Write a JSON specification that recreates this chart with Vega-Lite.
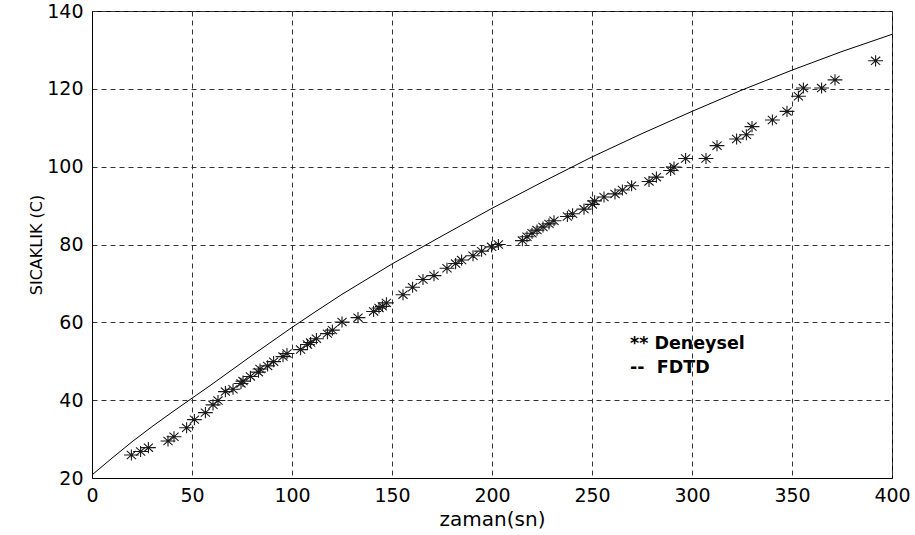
{
  "$schema": "https://vega.github.io/schema/vega-lite/v6.json",
  "width": 800,
  "height": 467,
  "autosize": "none",
  "padding": {"left": 92, "top": 11, "right": 23, "bottom": 57},
  "background": "white",
  "config": {
    "view": {"stroke": "black", "strokeWidth": 1},
    "axis": {
      "labelFont": "DejaVu Sans",
      "labelFontSize": 19,
      "labelColor": "black",
      "titleFont": "DejaVu Sans",
      "titleColor": "black",
      "titleFontWeight": "normal",
      "domainColor": "black",
      "domainWidth": 1,
      "ticks": false,
      "gridColor": "#333333",
      "gridDash": [5, 4],
      "gridOpacity": 1,
      "gridWidth": 1
    }
  },
  "datasets": {
    "deneysel": [
      {"zaman": 19.7, "sicaklik": 25.9}, {"zaman": 24.3, "sicaklik": 26.8}, {"zaman": 28.2, "sicaklik": 27.8},
      {"zaman": 38.0, "sicaklik": 29.5}, {"zaman": 41.0, "sicaklik": 30.6}, {"zaman": 47.3, "sicaklik": 32.9},
      {"zaman": 51.2, "sicaklik": 35.0}, {"zaman": 56.7, "sicaklik": 36.8}, {"zaman": 60.5, "sicaklik": 38.8},
      {"zaman": 63.0, "sicaklik": 39.9}, {"zaman": 66.7, "sicaklik": 42.2}, {"zaman": 70.5, "sicaklik": 42.8},
      {"zaman": 74.5, "sicaklik": 44.3}, {"zaman": 75.5, "sicaklik": 44.9}, {"zaman": 79.2, "sicaklik": 46.1},
      {"zaman": 83.2, "sicaklik": 47.2}, {"zaman": 84.0, "sicaklik": 48.0}, {"zaman": 87.8, "sicaklik": 48.8},
      {"zaman": 90.8, "sicaklik": 49.9}, {"zaman": 95.5, "sicaklik": 51.2}, {"zaman": 97.5, "sicaklik": 52.0},
      {"zaman": 104.3, "sicaklik": 53.0}, {"zaman": 107.7, "sicaklik": 54.3}, {"zaman": 109.3, "sicaklik": 54.8},
      {"zaman": 112.2, "sicaklik": 55.8}, {"zaman": 117.7, "sicaklik": 57.1}, {"zaman": 120.2, "sicaklik": 58.0},
      {"zaman": 125.0, "sicaklik": 60.1}, {"zaman": 133.0, "sicaklik": 61.2}, {"zaman": 140.8, "sicaklik": 62.8},
      {"zaman": 143.5, "sicaklik": 63.7}, {"zaman": 145.2, "sicaklik": 64.1}, {"zaman": 147.2, "sicaklik": 65.0},
      {"zaman": 155.5, "sicaklik": 67.1}, {"zaman": 160.3, "sicaklik": 69.0}, {"zaman": 165.5, "sicaklik": 71.0},
      {"zaman": 171.0, "sicaklik": 72.0}, {"zaman": 177.5, "sicaklik": 73.9}, {"zaman": 181.8, "sicaklik": 75.1},
      {"zaman": 184.8, "sicaklik": 76.0}, {"zaman": 190.5, "sicaklik": 77.1}, {"zaman": 194.8, "sicaklik": 78.3},
      {"zaman": 199.8, "sicaklik": 79.4}, {"zaman": 203.2, "sicaklik": 80.0}, {"zaman": 215.2, "sicaklik": 81.0},
      {"zaman": 217.5, "sicaklik": 82.0}, {"zaman": 220.0, "sicaklik": 82.9}, {"zaman": 222.5, "sicaklik": 83.7},
      {"zaman": 225.5, "sicaklik": 84.5}, {"zaman": 228.5, "sicaklik": 85.3}, {"zaman": 231.0, "sicaklik": 86.1},
      {"zaman": 237.7, "sicaklik": 87.2}, {"zaman": 240.3, "sicaklik": 87.9}, {"zaman": 246.0, "sicaklik": 89.1},
      {"zaman": 250.2, "sicaklik": 90.3}, {"zaman": 251.3, "sicaklik": 91.2}, {"zaman": 256.0, "sicaklik": 92.2},
      {"zaman": 261.5, "sicaklik": 93.0}, {"zaman": 265.2, "sicaklik": 94.0}, {"zaman": 269.8, "sicaklik": 95.1},
      {"zaman": 278.5, "sicaklik": 96.2}, {"zaman": 282.2, "sicaklik": 97.3}, {"zaman": 289.3, "sicaklik": 99.0},
      {"zaman": 291.0, "sicaklik": 99.9}, {"zaman": 296.8, "sicaklik": 102.1}, {"zaman": 307.0, "sicaklik": 102.1},
      {"zaman": 312.5, "sicaklik": 105.4}, {"zaman": 322.3, "sicaklik": 107.1}, {"zaman": 327.2, "sicaklik": 108.2},
      {"zaman": 330.0, "sicaklik": 110.3}, {"zaman": 340.2, "sicaklik": 112.0}, {"zaman": 347.5, "sicaklik": 114.2},
      {"zaman": 353.2, "sicaklik": 118.1}, {"zaman": 355.7, "sicaklik": 120.2}, {"zaman": 364.8, "sicaklik": 120.2},
      {"zaman": 371.5, "sicaklik": 122.3}, {"zaman": 391.8, "sicaklik": 127.2}
    ],
    "fdtd": [
      {"zaman": 0, "sicaklik": 20.8}, {"zaman": 10, "sicaklik": 25.1}, {"zaman": 20, "sicaklik": 29.3},
      {"zaman": 30, "sicaklik": 33.2}, {"zaman": 40, "sicaklik": 36.9}, {"zaman": 50, "sicaklik": 40.5},
      {"zaman": 60, "sicaklik": 44.1}, {"zaman": 70, "sicaklik": 47.8}, {"zaman": 80, "sicaklik": 51.5},
      {"zaman": 90, "sicaklik": 55.1}, {"zaman": 100, "sicaklik": 58.7}, {"zaman": 112.5, "sicaklik": 63.0},
      {"zaman": 125, "sicaklik": 67.2}, {"zaman": 150, "sicaklik": 75.0}, {"zaman": 175, "sicaklik": 82.2},
      {"zaman": 200, "sicaklik": 89.3}, {"zaman": 225, "sicaklik": 96.0}, {"zaman": 250, "sicaklik": 102.5},
      {"zaman": 275, "sicaklik": 108.5}, {"zaman": 300, "sicaklik": 114.2}, {"zaman": 325, "sicaklik": 119.7},
      {"zaman": 350, "sicaklik": 124.8}, {"zaman": 375, "sicaklik": 129.6}, {"zaman": 400, "sicaklik": 134.0}
    ],
    "legend": [
      {"zaman": 269, "sicaklik": 53.1, "etiket": "** Deneysel"},
      {"zaman": 269, "sicaklik": 46.9, "etiket": "--\u00a0\u00a0FDTD"}
    ]
  },
  "layer": [
    {
      "data": {"name": "fdtd"},
      "mark": {"type": "line", "color": "black", "strokeWidth": 1, "clip": true},
      "encoding": {
        "x": {
          "field": "zaman", "type": "quantitative",
          "scale": {"domain": [0, 400], "nice": false},
          "axis": {"values": [0, 50, 100, 150, 200, 250, 300, 350, 400], "title": "zaman(sn)", "titleFontSize": 20, "labelPadding": 8, "titlePadding": 4, "labelFlush": false}
        },
        "y": {
          "field": "sicaklik", "type": "quantitative",
          "scale": {"domain": [20, 140], "nice": false, "zero": false},
          "axis": {"values": [20, 40, 60, 80, 100, 120, 140], "title": "SICAKLIK (C)", "titleFontSize": 16, "labelPadding": 9, "titlePadding": 2, "labelFlush": false}
        }
      }
    },
    {
      "data": {"name": "deneysel"},
      "mark": {
        "type": "point",
        "shape": "M-1,0L1,0M0,-0.75L0,0.75M-0.62,-0.55L0.62,0.55M-0.62,0.55L0.62,-0.55",
        "size": 220,
        "filled": false,
        "stroke": "#1a1a1a",
        "strokeWidth": 1.1,
        "opacity": 1
      },
      "encoding": {
        "x": {"field": "zaman", "type": "quantitative"},
        "y": {"field": "sicaklik", "type": "quantitative"}
      }
    },
    {
      "data": {"name": "legend"},
      "mark": {"type": "text", "align": "left", "baseline": "alphabetic", "font": "DejaVu Sans", "fontSize": 17.5, "fontWeight": "bold", "color": "black"},
      "encoding": {
        "x": {"field": "zaman", "type": "quantitative"},
        "y": {"field": "sicaklik", "type": "quantitative"},
        "text": {"field": "etiket"}
      }
    }
  ]
}
